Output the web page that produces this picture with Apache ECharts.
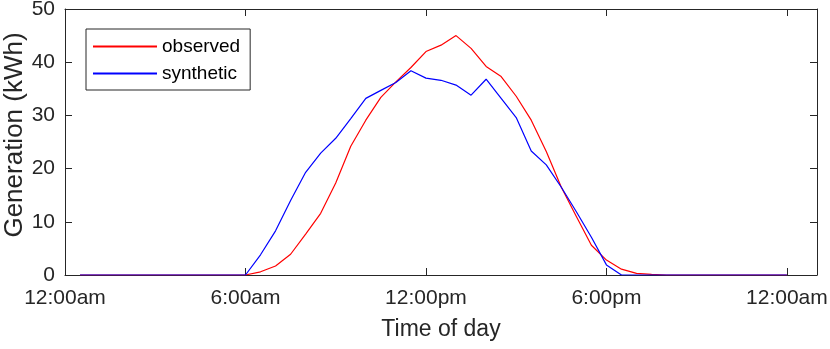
<!DOCTYPE html>
<html>
<head>
<meta charset="utf-8">
<script src="https://cdn.jsdelivr.net/npm/echarts@6/dist/echarts.min.js"></script>
<style>
  html, body { margin: 0; padding: 0; background: #fff; }
  #chart { width: 830px; height: 349px; }
</style>
</head>
<body>
<div id="chart"></div>
<script>
// half-hourly samples, hours after midnight
var hours = [0.5, 1, 1.5, 2, 2.5, 3, 3.5, 4, 4.5, 5, 5.5, 6,
             6.5, 7, 7.5, 8, 8.5, 9, 9.5, 10, 10.5, 11, 11.5, 12,
             12.5, 13, 13.5, 14, 14.5, 15, 15.5, 16, 16.5, 17, 17.5, 18,
             18.5, 19, 19.5, 20, 20.5, 21, 21.5, 22, 22.5, 23, 23.5, 24];
var observed = [0, 0, 0, 0, 0, 0, 0, 0, 0, 0, 0, 0,
                0.6, 1.7, 3.9, 7.7, 11.6, 17.3, 24.2, 29.1, 33.4, 36.3, 39.0, 42.0,
                43.2, 45.0, 42.6, 39.2, 37.3, 33.6, 29.1, 23.2, 16.5, 11.0, 5.6, 2.8,
                1.1, 0.3, 0.1, 0, 0, 0, 0, 0, 0, 0, 0, 0];
var synthetic = [0, 0, 0, 0, 0, 0, 0, 0, 0, 0, 0, 0,
                 3.8, 8.3, 14.0, 19.3, 22.9, 25.7, 29.4, 33.2, 34.7, 36.2, 38.4, 37.0,
                 36.6, 35.7, 33.8, 36.8, 33.2, 29.6, 23.3, 20.7, 16.5, 11.9, 7.1, 1.9,
                 0, 0, 0, 0, 0, 0, 0, 0, 0, 0, 0, 0];
var tickHours = [0, 6, 12, 18, 24];
var tickLabels = ['12:00am', '6:00am', '12:00pm', '6:00pm', '12:00am'];

var ink = '#262626';
var font = '"Liberation Sans", Arial, sans-serif';

function pairs(vals) {
    var out = [];
    hours.forEach(function (h, i) { out.push([h, vals[i]]); });
    return out;
}

var tickStyle = { show: true, inside: true, length: 7, lineStyle: { color: ink, width: 1 } };
var lineAx = { show: true, onZero: false, lineStyle: { color: ink, width: 1 } };

var option = {
    animation: false,
    backgroundColor: '#fff',
    grid: { left: 65, right: 13, top: 9, bottom: 74, containLabel: false, outerBoundsMode: 'none' },
    legend: {
        orient: 'vertical',
        left: 86,
        top: 29,
        padding: [8, 10, 7, 6],
        itemGap: 8,
        itemWidth: 64,
        itemHeight: 14,
        borderColor: ink,
        borderWidth: 1,
        backgroundColor: '#fff',
        itemStyle: { opacity: 0 },
        textStyle: { color: '#000', fontSize: 19, fontFamily: font },
        data: ['observed', 'synthetic']
    },
    xAxis: [{
        type: 'value', position: 'bottom', min: 0, max: 25, interval: 6,
        axisLine: lineAx, axisTick: tickStyle, splitLine: { show: false },
        axisLabel: {
            color: ink, fontSize: 21, fontFamily: font, margin: 13, showMaxLabel: true,
            formatter: function (v) {
                var k = tickHours.indexOf(v);
                return k < 0 ? '' : tickLabels[k];
            }
        },
        name: 'Time of day', nameLocation: 'middle', nameGap: 43, nameMoveOverlap: false,
        nameTextStyle: { color: ink, fontSize: 23, fontFamily: font }
    }, {
        type: 'value', position: 'top', min: 0, max: 25, interval: 6,
        axisLine: lineAx, axisTick: tickStyle, axisLabel: { show: false }, splitLine: { show: false }
    }],
    yAxis: [{
        type: 'value', position: 'left', min: 0, max: 50, interval: 10,
        axisLine: lineAx, axisTick: tickStyle, splitLine: { show: false },
        axisLabel: { color: ink, fontSize: 21, fontFamily: font, margin: 10 },
        name: 'Generation (kWh)', nameLocation: 'middle', nameGap: 37, nameRotate: 90,
        nameMoveOverlap: false,
        nameTextStyle: { color: ink, fontSize: 26, fontFamily: font, padding: [0, 0, 0, 14] }
    }, {
        type: 'value', position: 'right', min: 0, max: 50, interval: 10,
        axisLine: lineAx, axisTick: tickStyle, axisLabel: { show: false }, splitLine: { show: false }
    }],
    series: [{
        name: 'observed', type: 'line', symbol: 'none', data: pairs(observed),
        lineStyle: { color: '#ff0000', width: 1.2 }, itemStyle: { color: '#ff0000' }
    }, {
        name: 'synthetic', type: 'line', symbol: 'none', data: pairs(synthetic),
        lineStyle: { color: '#0000ff', width: 1.2 }, itemStyle: { color: '#0000ff' }
    }]
};

var chart = echarts.init(document.getElementById('chart'), null, { renderer: 'canvas' });
chart.setOption(option);
</script>
</body>
</html>
